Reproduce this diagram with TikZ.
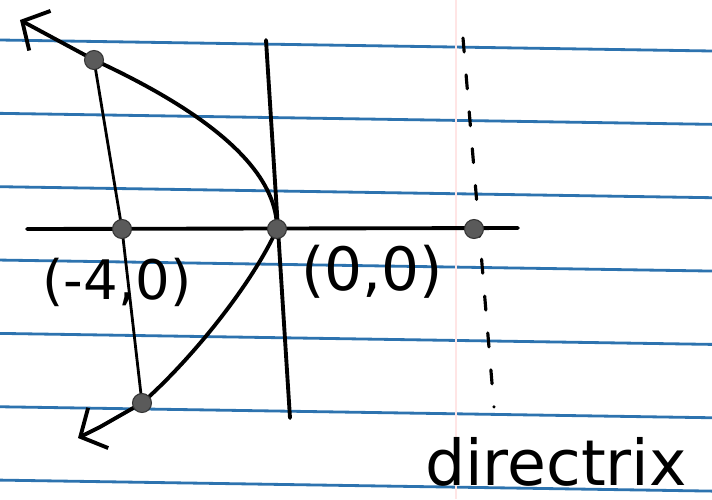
\documentclass[tikz,border=0pt]{standalone}
\usepackage{fontspec}
\setmainfont{DejaVu Sans}
\usetikzlibrary{arrows.meta}
\definecolor{ruleblue}{RGB}{45,115,175}
\definecolor{dotgray}{RGB}{90,90,90}

\begin{document}
\begin{tikzpicture}[x=1cm, y=1cm, >={Straight Barb[length=4mm, width=9mm]},
  pen/.style={line width=2.2pt, black, line cap=round, line join=round},
  ruled/.style={line width=1.6pt, color=ruleblue},
  dot/.style={circle, fill=dotgray, draw=black!80, line width=0.6pt, inner sep=0pt, minimum size=0.38cm},
  hand/.style={font=\fontsize{31}{36}\selectfont}]

  % Paper
  \useasboundingbox (-5.54,-5.40) rectangle (8.70,4.58);
  \fill[white] (-5.54,-5.40) rectangle (8.70,4.58);

  % Ruled lines
  \foreach \k in {0,...,6}
    \draw[ruled] (-5.54,{3.78-1.467*\k}) -- (8.70,{3.56-1.467*\k});

  % Margin line (shows through faintly)
  \draw[red!10, line width=1pt] (3.58,4.58) -- (3.58,-5.40);

  % Coordinates
  \coordinate (V) at (0,0);
  \coordinate (F) at (-3.1,0);
  \coordinate (U) at (-3.66,3.38);
  \coordinate (L) at (-2.70,-3.48);
  \coordinate (D) at (3.94,0);
  \coordinate (Utip) at (-5.14,4.18);
  \coordinate (Lend) at (-3.54,-3.96);
  \coordinate (Ltip) at (-3.98,-4.18);

  % Axes
  \draw[pen] (-5.0,0) -- (4.82,0.02);
  \draw[pen] (-0.22,3.78) -- (0.26,-3.78);

  % Directrix
  \draw[pen, line width=1.8pt, dash pattern=on 0.28cm off 0.46cm] (3.72,3.82) -- (4.34,-3.56);

  % Latus rectum
  \draw[pen, line width=1.6pt] (U) -- (F) -- (L);

  % Parabola, upper branch
  \draw[pen, ->] plot[domain=0:3.38, samples=40] ({-0.32*\x*\x}, \x) -- (Utip);
  % lower branch
  \draw[pen, ->] (V) .. controls (-0.5,-1.1) and (-1.7,-2.6) .. (L) -- (Lend) -- (Ltip);

  % Points
  \foreach \p in {V,F,U,L,D}
    \node[dot] (dot\p) at (\p) {};

  % Labels
  \node[hand] (lblF) at (-3.2,-1.06) {(-4,0)};
  \node[hand, font=\fontsize{34}{38}\selectfont] (lblV) at (1.9,-0.86) {(0,0)};
  \node[hand, font=\fontsize{36}{40}\selectfont] (lblD) at (5.58,-4.66) {directrix};

\end{tikzpicture}
\end{document}
